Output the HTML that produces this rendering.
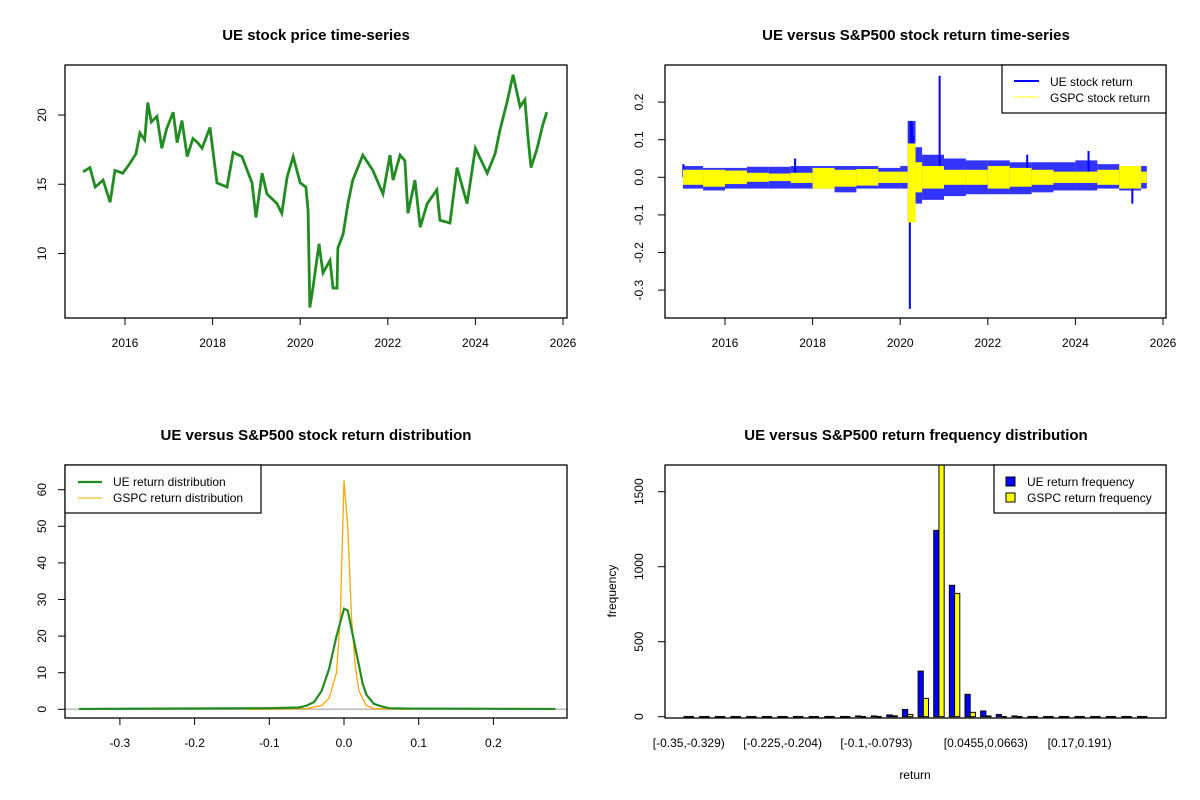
<!DOCTYPE html>
<html><head><meta charset="utf-8"><style>
html,body{margin:0;padding:0;background:#fff}
svg{display:block;font-family:"Liberation Sans",Arial,sans-serif}
</style></head><body>
<svg id="c" width="1200" height="800" viewBox="0 0 1200 800">
<rect width="1200" height="800" fill="#fff"/>
<g id="p1"></g>
<g id="p2"></g>
<g id="p3"></g>
<g id="p4"></g>
</svg>
<script>
// ---- Panel 1: UE price ----
const priceYears=[2015.04,2015.2,2015.32,2015.5,2015.66,2015.77,2015.95,2016.11,2016.25,2016.34,2016.45,2016.52,2016.6,2016.73,2016.84,2016.95,2017.1,2017.19,2017.3,2017.42,2017.55,2017.66,2017.76,2017.94,2018.1,2018.33,2018.47,2018.67,2018.9,2018.99,2019.13,2019.24,2019.47,2019.58,2019.7,2019.84,2020.0,2020.13,2020.18,2020.22,2020.29,2020.43,2020.52,2020.68,2020.75,2020.84,2020.86,2020.98,2021.09,2021.2,2021.43,2021.66,2021.89,2022.05,2022.12,2022.28,2022.39,2022.46,2022.62,2022.74,2022.9,2023.12,2023.19,2023.42,2023.58,2023.81,2024.0,2024.27,2024.45,2024.56,2024.72,2024.86,2025.02,2025.13,2025.2,2025.27,2025.41,2025.54,2025.63];
const priceValues=[15.9,16.2,14.8,15.3,13.7,16.0,15.8,16.5,17.2,18.7,18.2,20.9,19.5,19.9,17.6,19.0,20.2,18.0,19.6,17.0,18.3,18.0,17.6,19.1,15.1,14.8,17.3,17.0,15.1,12.6,15.8,14.3,13.6,12.9,15.5,17.0,15.1,14.8,13.1,6.1,7.5,10.7,8.6,9.5,7.5,7.5,10.4,11.4,13.6,15.3,17.1,16.0,14.3,17.1,15.3,17.1,16.7,12.9,15.3,11.9,13.6,14.6,12.4,12.2,16.2,13.6,17.6,15.8,17.2,18.9,20.9,22.9,20.6,21.1,18.4,16.2,17.6,19.3,20.2];
const yearTicks=[2016,2018,2020,2022,2024,2026];
const priceTicks=[10,15,20];
// ---- Panel 2: returns envelopes (period start years) ----
const retPeriods=[2015.0,2015.5,2016.0,2016.5,2017.0,2017.5,2018.0,2018.5,2019.0,2019.5,2020.0,2020.17,2020.35,2020.5,2021.0,2021.5,2022.0,2022.5,2023.0,2023.5,2024.0,2024.5,2025.0,2025.5];
const ueHigh=[0.03,0.025,0.025,0.028,0.028,0.03,0.03,0.03,0.03,0.025,0.03,0.15,0.08,0.06,0.05,0.045,0.045,0.04,0.04,0.04,0.045,0.035,0.03,0.03];
const ueLow=[-0.03,-0.035,-0.03,-0.03,-0.03,-0.03,-0.03,-0.04,-0.03,-0.03,-0.03,-0.12,-0.07,-0.06,-0.05,-0.045,-0.045,-0.045,-0.04,-0.035,-0.035,-0.03,-0.035,-0.03];
const gsHigh=[0.02,0.02,0.018,0.012,0.01,0.012,0.025,0.02,0.022,0.015,0.015,0.09,0.04,0.03,0.02,0.02,0.03,0.025,0.02,0.015,0.015,0.02,0.03,0.015];
const gsLow=[-0.02,-0.025,-0.018,-0.012,-0.01,-0.015,-0.03,-0.025,-0.022,-0.015,-0.015,-0.12,-0.04,-0.03,-0.02,-0.02,-0.03,-0.025,-0.02,-0.015,-0.015,-0.02,-0.03,-0.015];
const ueSpikeYears=[2020.22,2020.24,2020.27,2020.3,2020.9,2015.05,2017.6,2022.9,2024.3,2025.3];
const ueSpikeValues=[-0.35,0.15,0.145,0.11,0.27,0.035,0.05,0.06,0.07,-0.07];
const retTicks=[-0.3,-0.2,-0.1,0.0,0.1,0.2];
// ---- Panel 3: density ----
const ueDensX=[-0.355,-0.1,-0.06,-0.05,-0.04,-0.03,-0.02,-0.01,0,0.005,0.01,0.02,0.025,0.03,0.04,0.05,0.06,0.09,0.283];
const ueDensY=[0.1,0.3,0.5,1,2,5,11,20,27.5,27,22,12,7,4,1.5,0.8,0.3,0.2,0.1];
const gsDensX=[-0.13,-0.05,-0.03,-0.02,-0.01,-0.005,0,0.005,0.01,0.015,0.02,0.03,0.04,0.09];
const gsDensY=[0,0.2,1,3,10,25,62.5,50,25,12,5,1,0.2,0];
const densXTicks=[-0.3,-0.2,-0.1,0,0.1,0.2];
const densYTicks=[0,10,20,30,40,50,60];
// ---- Panel 4: histogram ----
const ueFreq=[1,0,0,0,0,0,0,0,0,1,2,5,5,12,48,304,1242,876,149,38,15,5,2,1,0,0,0,0,0,1];
const gsFreq=[0,0,0,0,0,0,0,0,0,0,1,2,2,6,15,122,1750,822,29,5,2,1,0,0,0,0,0,0,0,0];
const binLabels=["[-0.35,-0.329)","[-0.225,-0.204)","[-0.1,-0.0793)","[0.0455,0.0663)","[0.17,0.191)"];
const binLabelIdx=[0,6,12,19,25];
const freqTicks=[0,500,1000,1500];

const NS="http://www.w3.org/2000/svg";
function mk(parent,tag,attrs,text){const e=document.createElementNS(NS,tag);for(const k in attrs)e.setAttribute(k,attrs[k]);if(text!==undefined)e.textContent=text;parent.appendChild(e);return e;}
function box(g,x0,y0,x1,y1){const r=mk(g,'rect',{x:x0,y:y0,width:x1-x0,height:y1-y0,fill:'none',stroke:'#000','stroke-width':1.3});

}
function title(g,x,y,t){const e=mk(g,'text',{x:x,y:y,'text-anchor':'middle','font-size':15,'font-weight':'bold'},t);

}
function xtick(g,x,yb,lab,ly){mk(g,'line',{x1:x,x2:x,y1:yb,y2:yb+7,stroke:'#000'});const e=mk(g,'text',{x:x,y:ly,'text-anchor':'middle','font-size':12},lab);

}
function ytick(g,y,xl,lab,lx){mk(g,'line',{x1:xl,x2:xl-7,y1:y,y2:y,stroke:'#000'});const e=mk(g,'text',{x:lx,y:y,'text-anchor':'middle','font-size':12,transform:`rotate(-90 ${lx} ${y})`},lab);

}

// Panel 1
(function(){const g=document.getElementById('p1');
const X=yr=>125+(yr-2016)*43.8, Y=v=>115+(20-v)*13.85;
title(g,316,40,'UE stock price time-series');
let pts=priceYears.map((yr,i)=>X(yr)+','+Y(priceValues[i])).join(' ');
const l=mk(g,'polyline',{points:pts,fill:'none',stroke:'#228B22','stroke-width':2.8,'stroke-linejoin':'miter'});


box(g,65,65,567,318);
yearTicks.forEach(t=>xtick(g,X(t),318,String(t),347));
priceTicks.forEach(t=>ytick(g,Y(t),65,String(t),46));
})();

// Panel 2
(function(){const g=document.getElementById('p2');
const X=yr=>725+(yr-2016)*43.8, Y=r=>177.3-r*376;
title(g,916,40,'UE versus S&P500 stock return time-series');
function band(hi,lo,col,name,op){
retPeriods.forEach((p,i)=>{const s=Math.max(p,2015.04);const e=Math.min(i+1<retPeriods.length?retPeriods[i+1]:2025.63,2025.63);
const b=mk(g,'rect',{x:X(s),y:Y(hi[i]),width:X(e)-X(s),height:Y(lo[i])-Y(hi[i]),fill:col,'fill-opacity':op});

});}
band(ueHigh,ueLow,'#0000FF','ue-return-band',0.8);
ueSpikeYears.forEach((yr,i)=>{const s=mk(g,'line',{x1:X(yr),x2:X(yr),y1:Y(0),y2:Y(ueSpikeValues[i]),stroke:'#0000FF','stroke-width':2});

});
band(gsHigh,gsLow,'#FFFF00','gspc-return-band',1);
box(g,665,65,1166,318);
yearTicks.forEach(t=>xtick(g,X(t),318,String(t),347));
retTicks.forEach(t=>ytick(g,Y(t),665,t.toFixed(1),643));
const lg=mk(g,'g',{});
mk(lg,'rect',{x:1002,y:65,width:164,height:48,fill:'#fff',stroke:'#000','stroke-width':1.2});
mk(lg,'line',{x1:1014,x2:1039,y1:81,y2:81,stroke:'#0000FF','stroke-width':2});
mk(lg,'line',{x1:1014,x2:1039,y1:97,y2:97,stroke:'#FFFF00','stroke-width':1});
mk(lg,'text',{x:1050,y:86,'font-size':12},'UE stock return');
mk(lg,'text',{x:1050,y:102,'font-size':12},'GSPC stock return');
})();

// Panel 3
(function(){const g=document.getElementById('p3');
const X=r=>344+r*747, Y=d=>709.3-d*3.66;
title(g,316,440,'UE versus S&P500 stock return distribution');
mk(g,'line',{x1:65,x2:567,y1:Y(0),y2:Y(0),stroke:'#bbb','stroke-width':1.5});
const gl=mk(g,'polyline',{points:gsDensX.map((x,i)=>X(x)+','+Y(gsDensY[i])).join(' '),fill:'none',stroke:'#FFA500','stroke-width':1.3});


const ul=mk(g,'polyline',{points:ueDensX.map((x,i)=>X(x)+','+Y(ueDensY[i])).join(' '),fill:'none',stroke:'#228B22','stroke-width':2.2});


box(g,65,465,567,718);
densXTicks.forEach(t=>xtick(g,X(t),718,t.toFixed(1),747));
densYTicks.forEach(t=>ytick(g,Y(t),65,String(t),46));
const lg=mk(g,'g',{});
mk(lg,'rect',{x:65,y:465,width:196,height:48,fill:'#fff',stroke:'#000','stroke-width':1.2});
mk(lg,'line',{x1:78,x2:102,y1:482,y2:482,stroke:'#228B22','stroke-width':2.2});
mk(lg,'line',{x1:78,x2:102,y1:498,y2:498,stroke:'#FFA500','stroke-width':1});
mk(lg,'text',{x:113,y:486,'font-size':12},'UE return distribution');
mk(lg,'text',{x:113,y:502,'font-size':12},'GSPC return distribution');
})();

// Panel 4
(function(){const g=document.getElementById('p4');
const U=5.212, XU=u=>665+(u+2.56)*U, Y=f=>716.7-f*0.15;
title(g,916,440,'UE versus S&P500 return frequency distribution');
const cp=mk(g,'clipPath',{id:'hc'});mk(cp,'rect',{x:665,y:465,width:501,height:253});
const bars=mk(g,'g',{'clip-path':'url(#hc)'});
function drawBars(arr,off,col,name){arr.forEach((f,k)=>{const x=XU(off+3*k);
if(f<=2){const b=mk(bars,'line',{x1:x,x2:x+U,y1:Y(0),y2:Y(0),stroke:'#000','stroke-width':1.5});

return;}
const b=mk(bars,'rect',{x:x,y:Y(f),width:U,height:Y(0)-Y(f),fill:col,stroke:'#000','stroke-width':1});

});}
drawBars(ueFreq,1,'#0000FF','ue-freq-bar');
drawBars(gsFreq,2,'#FFFF00','gspc-freq-bar');
box(g,665,465,1166,718);
binLabelIdx.forEach((k,i)=>{const e=mk(g,'text',{x:XU(2+3*k),y:747,'text-anchor':'middle','font-size':12},binLabels[i]);

});
freqTicks.forEach(t=>ytick(g,Y(t),665,String(t),643));
const xl=mk(g,'text',{x:915,y:779,'text-anchor':'middle','font-size':12},'return');


const yl=mk(g,'text',{x:616,y:591,'text-anchor':'middle','font-size':12,transform:'rotate(-90 616 591)'},'frequency');


const lg=mk(g,'g',{});
mk(lg,'rect',{x:994,y:465,width:172,height:48,fill:'#fff',stroke:'#000','stroke-width':1.2});
mk(lg,'rect',{x:1006,y:477,width:9,height:9,fill:'#0000FF',stroke:'#000'});
mk(lg,'rect',{x:1006,y:493,width:9,height:9,fill:'#FFFF00',stroke:'#000'});
mk(lg,'text',{x:1027,y:486,'font-size':12},'UE return frequency');
mk(lg,'text',{x:1027,y:502,'font-size':12},'GSPC return frequency');
})();
</script>
</body></html>
